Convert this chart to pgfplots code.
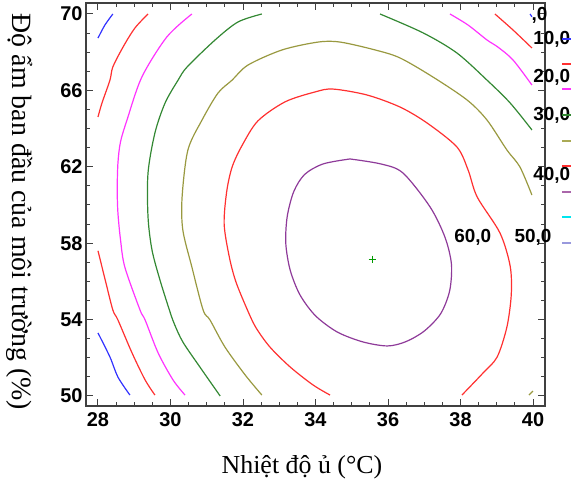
\documentclass[border=0pt]{standalone}
\usepackage{fontspec}
\setmainfont{Liberation Serif}
\newfontfamily\arialf{Liberation Sans}
\usepackage{pgfplots}
\pgfplotsset{compat=1.18}

\definecolor{cblue}{HTML}{3333FF}
\definecolor{cred}{HTML}{FF3030}
\definecolor{cmag}{HTML}{FF33FF}
\definecolor{cgreen}{HTML}{338833}
\definecolor{colive}{HTML}{999940}
\definecolor{cpurple}{HTML}{8E3A99}
\definecolor{lpurple}{HTML}{AA66AA}
\definecolor{lolive}{HTML}{AAAA55}
\definecolor{lcyan}{HTML}{00E5EE}
\definecolor{llav}{HTML}{9999DD}

\begin{document}
\begin{tikzpicture}
\useasboundingbox (0,0) rectangle (579bp,484bp);
\begin{axis}[
  at={(86bp,78bp)}, anchor=south west,
  scale only axis, width=459bp, height=403bp,
  xmin=27.669, xmax=40.331, ymin=49.476, ymax=70.576,
  xtick={28,30,...,40}, ytick={50,54,...,70},
  minor x tick num=3, minor y tick num=3,
  tick align=inside,
  major tick length=7bp, minor tick length=4bp,
  axis line style={black!75, line width=1.2bp},
  every tick/.style={black!75, line width=1bp},
  tick label style={font=\arialf\bfseries\fontsize{20}{20}\selectfont,
    /pgf/number format/assume math mode=true},
  xticklabel style={yshift=-3bp},
  clip=false,
  every axis plot/.append style={line width=1.2bp, smooth, tension=0.5},
]

% level 0
\addplot[cblue] coordinates {(28.00,68.74) (28.19,69.42) (28.41,70.00)};
\addplot[cblue] coordinates {(28.00,53.30) (28.33,52.04) (28.55,50.99) (28.88,50.05)};
\addplot[cblue] coordinates {(39.92,70.00) (39.97,69.85)};

% level 10
\addplot[cred] coordinates {(28.00,64.61) (28.11,65.34) (28.33,66.54) (28.41,67.23)
  (28.70,68.30) (29.02,69.27) (29.38,70.00)};
\addplot[cred] coordinates {(28.00,57.60) (28.20,56.07) (28.41,54.50) (28.55,53.98)
  (28.94,52.25) (29.30,50.84) (29.57,50.05)};
\addplot[cred] coordinates {(38.95,70.00) (39.45,69.16) (39.97,68.22)};

% level 20
\addplot[cmag] coordinates {(30.59,70.00) (29.90,68.80) (29.21,66.70) (28.80,64.45)
  (28.62,63.30) (28.55,62.20) (28.53,60.80) (28.55,59.58) (28.62,58.20) (28.74,56.75)
  (29.16,54.50) (29.30,53.98) (29.66,52.25) (30.07,50.84) (30.40,50.05)};
\addplot[cmag] coordinates {(37.71,70.00) (38.21,69.42) (38.73,68.64) (39.03,68.27)
  (39.45,67.59) (39.97,66.28)};

% level 30
\addplot[cgreen] coordinates {(32.52,70.00) (31.86,69.58) (31.23,68.64) (30.46,67.23)
  (30.21,66.54) (29.85,65.34) (29.57,63.77) (29.38,61.68) (29.38,59.37) (29.49,57.64)
  (29.71,56.07) (29.97,54.50) (30.10,53.80) (30.34,52.83) (30.81,51.52) (31.37,50.00)};
\addplot[cgreen] coordinates {(35.78,70.00) (36.97,69.01) (37.90,67.96) (38.73,66.54)
  (39.37,65.34) (39.97,63.93)};

% level 40
\addplot[colive] coordinates {(32.52,50.05) (32.06,51.10) (31.50,52.57) (31.09,53.98)
  (30.90,54.50) (30.59,56.75) (30.34,58.69) (30.32,60.42) (30.48,62.88) (30.87,64.45)
  (31.31,65.86) (31.70,66.54) (32.14,67.33) (33.08,68.12) (34.07,68.53) (34.68,68.53)
  (35.64,68.12) (36.33,67.70) (37.24,66.70) (38.18,65.50) (38.73,64.45) (39.28,62.88)
  (39.64,61.99) (39.97,60.52)};
\addplot[colive] coordinates {(39.89,50.05) (40.00,50.26)};

% level 50
\addplot[cred] coordinates {(34.40,50.05) (33.93,50.58) (33.30,51.52) (32.74,52.57)
  (32.35,53.60) (32.10,54.60) (31.80,56.00) (31.62,57.30) (31.48,59.00) (31.55,60.70)
  (31.70,61.99) (31.97,63.10) (32.41,64.40) (33.16,65.40) (33.99,65.92) (34.48,66.07)
  (35.42,65.76) (36.33,65.13) (37.08,64.29) (37.90,63.04) (38.21,61.83) (38.46,60.42)
  (39.09,58.53) (39.37,56.80) (39.40,55.30) (39.28,53.61) (39.01,52.04) (38.62,51.20)
  (38.04,50.05)};

% level 60
\addplot[cpurple] coordinates {(34.95,62.41) (35.80,62.15) (36.41,61.68) (37.16,59.90)
  (37.57,58.32) (37.75,56.90) (37.70,55.50) (37.45,54.30) (37.00,53.40) (36.50,52.85)
  (35.99,52.62) (35.31,52.83) (34.60,53.35) (34.00,54.20) (33.57,55.30) (33.30,56.60)
  (33.18,58.00) (33.22,59.40) (33.40,60.70) (33.70,61.60) (34.21,62.15) (34.95,62.41)};

% optimum
\addplot[only marks, mark=+, mark size=3.5bp, line width=0.8bp, green!60!black]
  coordinates {(35.56,57.17)};

% contour labels
\begin{scope}[every node/.style={font=\arialf\bfseries\fontsize{19}{19}\selectfont, inner sep=0pt}]
\node[anchor=east] at (axis cs:40.40,69.95) {,0};
\node at (axis cs:40.52,68.69) {10,0};
\node at (axis cs:40.52,66.70) {20,0};
\node at (axis cs:40.52,64.71) {30,0};
\node at (axis cs:40.52,61.57) {40,0};
\node at (axis cs:40.00,58.32) {50,0};
\node at (axis cs:38.34,58.32) {60,0};
\end{scope}

% legend keys
\draw[cblue, line width=1.2bp] (axis cs:40.80,68.69) -- (axis cs:41.05,68.69);
\draw[cred, line width=1.2bp] (axis cs:40.80,67.38) -- (axis cs:41.05,67.38);
\draw[cmag, line width=1.2bp] (axis cs:40.80,66.07) -- (axis cs:41.05,66.07);
\draw[cgreen, line width=1.2bp] (axis cs:40.80,64.71) -- (axis cs:41.05,64.71);
\draw[lolive, line width=1.2bp] (axis cs:40.80,63.35) -- (axis cs:41.05,63.35);
\draw[cred, line width=1.2bp] (axis cs:40.80,62.04) -- (axis cs:41.05,62.04);
\draw[lpurple, line width=1.2bp] (axis cs:40.80,60.68) -- (axis cs:41.05,60.68);
\draw[lcyan, line width=1.2bp] (axis cs:40.80,59.37) -- (axis cs:41.05,59.37);
\draw[llav, line width=1.2bp] (axis cs:40.80,58.01) -- (axis cs:41.05,58.01);
\end{axis}

\node[font=\fontsize{26}{26}\selectfont] at (302bp,17bp) {Nhiệt độ ủ (°C)};
\node[font=\fontsize{28}{28}\selectfont, rotate=-90] at (20bp,272bp)
  {Độ ẩm ban đầu của môi trường (\%)};
\end{tikzpicture}
\end{document}
